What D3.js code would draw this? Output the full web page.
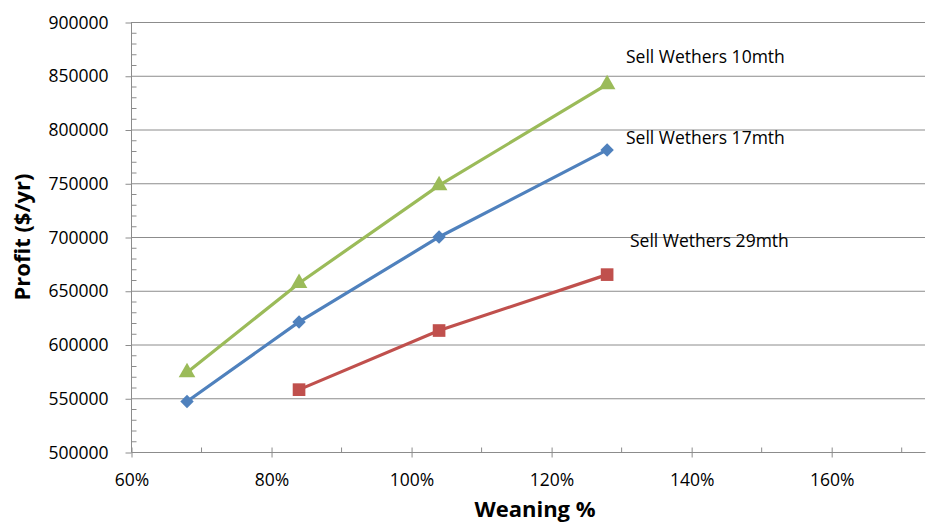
<!DOCTYPE html>
<html>
<head>
<meta charset="utf-8">
<script src="https://cdn.jsdelivr.net/npm/d3@7"></script>
<style>
  body { margin: 0; background: #fff; }
  text { font-family: "Open Sans", sans-serif; fill: #000; }
</style>
</head>
<body>
<div id="chart"></div>
<script>
// weaning % for each scenario
const weaning = [0.68, 0.84, 1.04, 1.28];

const sell10 = [574000, 657000, 748000, 842000];
const sell17 = [547000, 621000, 700000, 781000];
const sell29 = [null, 558000, 613000, 665000];

const seriesNames = ["Sell Wethers 10mth", "Sell Wethers 17mth", "Sell Wethers 29mth"];
const yTicks = [500000, 550000, 600000, 650000, 700000, 750000, 800000, 850000, 900000];
const xTicks = [0.6, 0.8, 1.0, 1.2, 1.4, 1.6];

const width = 926;
const height = 525;

const svg = d3.select("div#chart").append("svg")
    .attr("width", width)
    .attr("height", height);

// scales
const xScale = d3.scaleLinear().domain([0.6, 1.734]).range([131, 925]);
const yScale = d3.scaleLinear().domain([500000, 900000]).range([452, 22]);

// gridlines
svg.append("g")
  .selectAll("line")
  .data(yTicks.slice(1))
  .join("line")
    .attr("x1", 131).attr("x2", 925)
    .attr("y1", d => yScale(d) + 0.5).attr("y2", d => yScale(d) + 0.5)
    .attr("stroke", "#8c8c8c").attr("stroke-width", 1);

// y axis: major ticks outward, minor inward
const yaxis = d3.axisLeft(yScale).tickValues(yTicks).tickSize(6).tickPadding(17)
    .tickFormat(d3.format("d"));
const gy = svg.append("g")
  .attr("transform", "translate(131.5,0.5)")
  .call(yaxis);
gy.select(".domain").attr("stroke", "#8c8c8c").attr("d", "M0," + 452 + "V" + 22);
gy.selectAll(".tick line").attr("stroke", "#8c8c8c");
gy.selectAll(".tick text").style("font-size", "17.5px");

const yMinor = d3.range(510000, 900000, 10000).filter(v => v % 50000 !== 0);
gy.append("g").selectAll("line")
  .data(yMinor)
  .join("line")
    .attr("x1", 0).attr("x2", 5)
    .attr("y1", d => yScale(d)).attr("y2", d => yScale(d))
    .attr("stroke", "#8c8c8c");

// x axis: major ticks crossing, minor inward
const xaxis = d3.axisBottom(xScale).tickValues(xTicks).tickSize(5).tickPadding(16)
    .tickFormat(d3.format(".0%"));
const gx = svg.append("g")
  .attr("transform", "translate(0.5,452.5)")
  .call(xaxis);
gx.select(".domain").attr("stroke", "#8c8c8c").attr("d", "M131,0H925");
gx.selectAll(".tick line").attr("stroke", "#8c8c8c").attr("y1", -5);
gx.selectAll(".tick text").style("font-size", "17.5px");

const xMinor = [0.7, 0.9, 1.1, 1.3, 1.5, 1.7];
gx.append("g").selectAll("line")
  .data(xMinor)
  .join("line")
    .attr("x1", d => xScale(d)).attr("x2", d => xScale(d))
    .attr("y1", 0).attr("y2", -5)
    .attr("stroke", "#8c8c8c");

// axis titles
svg.append("text")
  .attr("transform", "translate(30,237) rotate(-90)")
  .attr("text-anchor", "middle")
  .style("font-size", "22px").style("font-weight", "bold")
  .text("Profit ($/yr)");

svg.append("text")
  .attr("x", 535).attr("y", 517)
  .attr("text-anchor", "middle")
  .style("font-size", "22px").style("font-weight", "bold")
  .text("Weaning %");

// series
const series = [
  { name: seriesNames[0], values: sell10, color: "#9bbb59", symbol: d3.symbolTriangle, size: 120, rot: 0, lx: 626, ly: 63 },
  { name: seriesNames[1], values: sell17, color: "#4f81bd", symbol: d3.symbolSquare, size: 90, rot: 45, lx: 626, ly: 144 },
  { name: seriesNames[2], values: sell29, color: "#c0504d", symbol: d3.symbolSquare, size: 160, rot: 0, lx: 630, ly: 247 }
];

const line = d3.line()
  .defined(d => d.v != null)
  .x(d => xScale(d.x))
  .y(d => yScale(d.v));

series.forEach(s => {
  const pts = weaning.map((x, i) => ({ x: x, v: s.values[i] })).filter(d => d.v != null);
  svg.append("path")
    .datum(pts)
    .attr("d", line)
    .attr("fill", "none")
    .attr("stroke", s.color)
    .attr("stroke-width", 3.2);

  svg.append("g").selectAll("path")
    .data(pts)
    .join("path")
      .attr("transform", d => "translate(" + xScale(d.x) + "," + yScale(d.v) + ") rotate(" + s.rot + ")")
      .attr("d", d3.symbol().type(s.symbol).size(s.size))
      .attr("fill", s.color);

  svg.append("text")
    .attr("x", s.lx).attr("y", s.ly)
    .style("font-size", "17.5px")
    .text(s.name);
});
</script>
</body>
</html>
